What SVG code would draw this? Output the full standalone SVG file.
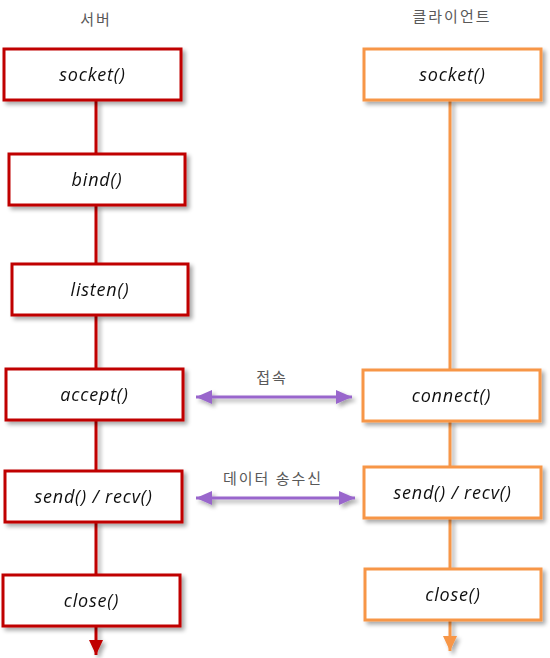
<svg xmlns="http://www.w3.org/2000/svg" width="550" height="658" viewBox="0 0 550 658">
<defs>
<filter id="sh" x="-10%" y="-10%" width="130%" height="140%">
<feGaussianBlur in="SourceAlpha" stdDeviation="2"/>
<feOffset dx="3" dy="3" result="b"/>
<feComponentTransfer><feFuncA type="linear" slope="0.35"/></feComponentTransfer>
<feMerge><feMergeNode/><feMergeNode in="SourceGraphic"/></feMerge>
</filter>
<marker id="redHead" viewBox="0 0 15 14" refX="15" refY="7" markerWidth="15" markerHeight="14" markerUnits="userSpaceOnUse" orient="auto">
<path d="M0 0 L15 7 L0 14 Z" fill="#C00000"/>
</marker>
<marker id="orHead" viewBox="0 0 15 14" refX="15" refY="7" markerWidth="15" markerHeight="14" markerUnits="userSpaceOnUse" orient="auto">
<path d="M0 0 L15 7 L0 14 Z" fill="#F79646"/>
</marker>
<marker id="pu" viewBox="0 0 16 14" refX="16" refY="7" markerWidth="16" markerHeight="14" markerUnits="userSpaceOnUse" orient="auto-start-reverse">
<path d="M0 0 L16 7 L0 14 Z" fill="#9966CC"/>
</marker>
</defs>
<style>
.srv rect{fill:#fff;stroke:#C00000;stroke-width:3}
.cli rect{fill:#fff;stroke:#F79646;stroke-width:3}
.fn{font-family:"Open Sans","DejaVu Sans",sans-serif;font-style:italic;font-size:18px;letter-spacing:0.8px;fill:#111;text-anchor:middle}
.kr{font-family:"Noto Sans CJK KR",sans-serif;font-size:15px;letter-spacing:2px;fill:#595959;text-anchor:middle}
.ls{stroke:#C00000;stroke-width:3;fill:none}
.lc{stroke:#F79646;stroke-width:3;fill:none}
.lp{stroke:#9966CC;stroke-width:3;fill:none}
</style>
<text class="kr" x="96" y="25">서버</text>
<text class="kr" x="452" y="22">클라이언트</text>
<g id="connectors" filter="url(#sh)">
<line class="ls" x1="96" y1="100" x2="96" y2="154"/>
<line class="ls" x1="96" y1="205" x2="96" y2="264"/>
<line class="ls" x1="96" y1="315" x2="96" y2="369"/>
<line class="ls" x1="96" y1="420" x2="96" y2="471"/>
<line class="ls" x1="96" y1="522" x2="96" y2="575"/>
<line class="ls" x1="96" y1="626" x2="96" y2="655" marker-end="url(#redHead)"/>
<line class="lc" x1="450" y1="100" x2="450" y2="370"/>
<line class="lc" x1="450" y1="421" x2="450" y2="467"/>
<line class="lc" x1="450" y1="518" x2="450" y2="569"/>
<line class="lc" x1="450" y1="620" x2="450" y2="651" marker-end="url(#orHead)"/>
<line class="lp" x1="196" y1="397" x2="352" y2="397" marker-start="url(#pu)" marker-end="url(#pu)"/>
<line class="lp" x1="196" y1="498" x2="355" y2="498" marker-start="url(#pu)" marker-end="url(#pu)"/>
</g>
<text class="kr" x="272" y="383">접속</text>
<text class="kr" x="273" y="484">데이터 송수신</text>
<g id="s-socket" class="srv" filter="url(#sh)"><rect x="4" y="49" width="177" height="51"/><text class="fn" x="92.5" y="81">socket()</text></g>
<g id="s-bind" class="srv" filter="url(#sh)"><rect x="9" y="154" width="176" height="51"/><text class="fn" x="97" y="186">bind()</text></g>
<g id="s-listen" class="srv" filter="url(#sh)"><rect x="12" y="264" width="176" height="51"/><text class="fn" x="100" y="296">listen()</text></g>
<g id="s-accept" class="srv" filter="url(#sh)"><rect x="6" y="369" width="177" height="51"/><text class="fn" x="94.5" y="401">accept()</text></g>
<g id="s-sendrecv" class="srv" filter="url(#sh)"><rect x="5" y="471" width="177" height="51"/><text class="fn" x="93.5" y="503">send() / recv()</text></g>
<g id="s-close" class="srv" filter="url(#sh)"><rect x="3" y="575" width="177" height="51"/><text class="fn" x="91.5" y="607">close()</text></g>
<g id="c-socket" class="cli" filter="url(#sh)"><rect x="364" y="49" width="177" height="51"/><text class="fn" x="452.5" y="81">socket()</text></g>
<g id="c-connect" class="cli" filter="url(#sh)"><rect x="363" y="370" width="177" height="51"/><text class="fn" x="451.5" y="402">connect()</text></g>
<g id="c-sendrecv" class="cli" filter="url(#sh)"><rect x="364" y="467" width="177" height="51"/><text class="fn" x="452.5" y="499">send() / recv()</text></g>
<g id="c-close" class="cli" filter="url(#sh)"><rect x="365" y="569" width="176" height="51"/><text class="fn" x="453" y="601">close()</text></g>
</svg>
